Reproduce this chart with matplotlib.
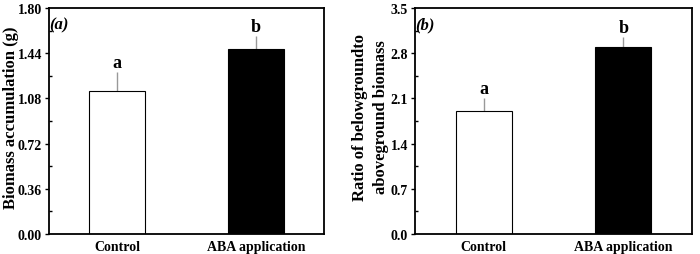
import matplotlib
matplotlib.use("Agg")
import matplotlib.pyplot as plt
from matplotlib.ticker import MultipleLocator, FormatStrFormatter

plt.rcParams['font.family'] = ['Liberation Serif', 'DejaVu Serif']
plt.rcParams['font.weight'] = 'bold'

categories = ["Control", "ABA application"]
biomass = [1.14, 1.475]
biomass_err = [0.15, 0.10]
ratio = [1.91, 2.90]
ratio_err = [0.20, 0.145]
letters = ["a", "b"]

fig = plt.figure(figsize=(7.0, 2.55), dpi=100)
ax1 = fig.add_axes([49/700, 20/255, 275/700, 226/255])
ax2 = fig.add_axes([415/700, 20/255, 277/700, 226/255])

def panel(ax, vals, errs, ylim, step, fmt, ylabel, tag, lx, lsp):
    x = list(range(len(categories)))
    ax.bar(x, vals, width=0.4, color=["white", "black"], edgecolor="black",
           linewidth=0.8, zorder=2)
    ax.errorbar(x, vals, yerr=[[0, 0], errs], fmt="none", ecolor="#999999",
                elinewidth=1.0, capsize=0, zorder=1)
    for xi, v, e, l in zip(x, vals, errs, letters):
        ax.text(xi, v + e + ylim * 0.005, l, ha="center", va="bottom",
                fontsize=13, fontweight="bold")
    ax.set_xlim(-0.49, 1.49)
    ax.set_ylim(0, ylim)
    ax.set_xticks(x)
    ax.set_xticklabels(categories, fontsize=10, fontweight="bold")
    ax.tick_params(axis="x", length=0, pad=4)
    ax.yaxis.set_major_locator(MultipleLocator(step))
    ax.yaxis.set_minor_locator(MultipleLocator(step / 2))
    ax.yaxis.set_major_formatter(FormatStrFormatter(fmt))
    ax.tick_params(axis="y", which="major", direction="out", length=3,
                   width=1, labelsize=10, pad=2)
    ax.tick_params(axis="y", which="minor", direction="in", length=2, width=1)
    for lbl in ax.get_yticklabels():
        lbl.set_fontweight("bold")
    for s in ax.spines.values():
        s.set_linewidth(1.3)
    ax.set_ylabel(ylabel, fontsize=12, fontweight="bold", linespacing=lsp)
    ax.yaxis.set_label_coords(lx, 0.52)
    ax.text(0.0, 0.965, tag, transform=ax.transAxes, ha="left", va="top",
            fontsize=12, fontweight="bold", fontstyle="italic")

panel(ax1, biomass, biomass_err, 1.80, 0.36, "%.2f",
      "Biomass accumulation (g)", "(a)", (19 - 49) / 275, 1.2)
panel(ax2, ratio, ratio_err, 3.5, 0.7, "%.1f",
      "Ratio of belowgroundto\naboveground biomass", "(b)", (389 - 415) / 277, 1.45)

fig.savefig("out.png", dpi=100)
